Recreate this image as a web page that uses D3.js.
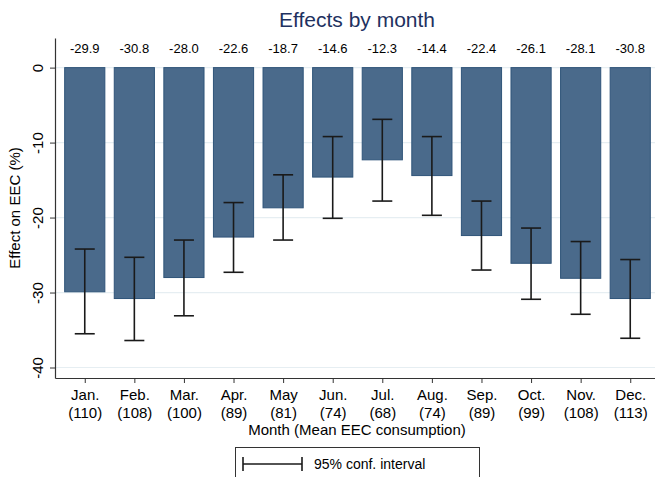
<!DOCTYPE html>
<html>
<head>
<meta charset="utf-8">
<script src="https://cdn.jsdelivr.net/npm/d3@7"></script>
<style>
  body { margin: 0; background: #fff; }
  text { font-family: "Liberation Sans", Arial, sans-serif; }
</style>
</head>
<body>
<script>
months = ["Jan.", "Feb.", "Mar.", "Apr.", "May", "Jun.", "Jul.", "Aug.", "Sep.", "Oct.", "Nov.", "Dec."]
meanEEC = [110, 108, 100, 89, 81, 74, 68, 74, 89, 99, 108, 113]
effect = [-29.9, -30.8, -28.0, -22.6, -18.7, -14.6, -12.3, -14.4, -22.4, -26.1, -28.1, -30.8]
ciHigh = [-24.2, -25.3, -23.0, -18.0, -14.3, -9.2, -6.9, -9.2, -17.8, -21.4, -23.2, -25.6]
ciLow = [-35.5, -36.4, -33.1, -27.3, -23.0, -20.1, -17.8, -19.7, -27.0, -30.9, -32.9, -36.1]
yTicks = [0, -10, -20, -30, -40]

data = months.map((m, i) => ({name: m, mean: meanEEC[i], value: effect[i], hi: ciHigh[i], lo: ciLow[i]}))

width = 655
height = 477
margin = ({top: 38, right: -5, bottom: 99, left: 55})

x = d3.scalePoint()
    .domain(months)
    .range([margin.left, width - margin.right])
    .padding(0.6)

barWidth = x.step() * 0.81

y = d3.scaleLinear()
    .domain([-41.4, 3.95])
    .range([height - margin.bottom, margin.top])

const svg = d3.select("body").append("svg")
    .attr("width", width)
    .attr("height", height)

// grid lines
svg.append("g")
    .selectAll("line")
    .data(yTicks)
    .join("line")
    .attr("x1", margin.left)
    .attr("x2", width)
    .attr("y1", d => y(d))
    .attr("y2", d => y(d))
    .attr("stroke", "#e6eef2")
    .attr("stroke-width", 1.2)

// bars
svg.append("g")
    .attr("class", "bars")
    .selectAll("rect")
    .data(data)
    .join("rect")
    .attr("x", d => x(d.name) - barWidth / 2)
    .attr("y", y(0))
    .attr("width", barWidth)
    .attr("height", d => y(d.value) - y(0))
    .attr("fill", "#4a6a8b")
    .attr("stroke", "#2f5479")
    .attr("stroke-width", 1)

// error bars
const err = svg.append("g")
    .attr("stroke", "#1a1a1a")
    .attr("stroke-width", 1.6)
    .selectAll("g")
    .data(data)
    .join("g")

err.append("line")
    .attr("x1", d => x(d.name)).attr("x2", d => x(d.name))
    .attr("y1", d => y(d.hi)).attr("y2", d => y(d.lo))
err.append("line")
    .attr("x1", d => x(d.name) - 10).attr("x2", d => x(d.name) + 10)
    .attr("y1", d => y(d.hi)).attr("y2", d => y(d.hi))
err.append("line")
    .attr("x1", d => x(d.name) - 10).attr("x2", d => x(d.name) + 10)
    .attr("y1", d => y(d.lo)).attr("y2", d => y(d.lo))

// value labels
svg.append("g")
    .selectAll("text")
    .data(data)
    .join("text")
    .attr("x", d => x(d.name))
    .attr("y", 53)
    .attr("text-anchor", "middle")
    .attr("font-size", 13)
    .attr("fill", "#000")
    .text(d => d.value.toFixed(1))

// y axis
const yAxis = svg.append("g")
    .attr("transform", `translate(${margin.left},0)`)
    .call(d3.axisLeft(y).tickValues(yTicks).tickFormat(d => String(d)).tickSize(5).tickSizeOuter(0))
yAxis.select(".domain").attr("stroke", "#333").attr("stroke-width", 1.2)
yAxis.selectAll(".tick line").attr("stroke", "#333")
yAxis.selectAll(".tick text")
    .attr("font-size", 15)
    .attr("fill", "#000")
    .attr("transform", "rotate(-90)")
    .attr("x", 0)
    .attr("y", -12)
    .attr("dy", 0)
    .attr("text-anchor", "middle")

// x axis
const xAxis = svg.append("g")
    .attr("transform", `translate(0,${height - margin.bottom})`)
    .call(d3.axisBottom(x).tickSize(5).tickSizeOuter(0))
xAxis.select(".domain").attr("stroke", "#333").attr("stroke-width", 1.2)
xAxis.selectAll(".tick line").attr("stroke", "#333")
xAxis.selectAll(".tick text").remove()
xAxis.selectAll(".tick").each(function(d, i) {
  const t = d3.select(this).append("text")
      .attr("fill", "#000")
      .attr("font-size", 15)
      .attr("text-anchor", "middle")
  t.append("tspan").attr("x", 0).attr("y", 22).text(d)
  t.append("tspan").attr("x", 0).attr("y", 40).text(`(${meanEEC[i]})`)
})

// axis titles
svg.append("text")
    .attr("x", 357)
    .attr("y", 435)
    .attr("text-anchor", "middle")
    .attr("font-size", 15)
    .text("Month (Mean EEC consumption)")

svg.append("text")
    .attr("transform", `translate(20,${(margin.top + height - margin.bottom) / 2}) rotate(-90)`)
    .attr("text-anchor", "middle")
    .attr("font-size", 15)
    .text("Effect on EEC (%)")

// title
svg.append("text")
    .attr("x", 357)
    .attr("y", 27)
    .attr("text-anchor", "middle")
    .attr("font-size", 21)
    .attr("fill", "#1e3160")
    .text("Effects by month")

// legend
const leg = svg.append("g")
leg.append("rect")
    .attr("x", 235.5).attr("y", 447.5)
    .attr("width", 244).attr("height", 40)
    .attr("fill", "#fff")
    .attr("stroke", "#333")
leg.append("line")
    .attr("x1", 243).attr("x2", 302).attr("y1", 464).attr("y2", 464)
    .attr("stroke", "#1a1a1a").attr("stroke-width", 1.6)
leg.selectAll(".cap")
    .data([243, 302])
    .join("line")
    .attr("x1", d => d).attr("x2", d => d).attr("y1", 457).attr("y2", 471)
    .attr("stroke", "#1a1a1a").attr("stroke-width", 1.6)
leg.append("text")
    .attr("x", 314).attr("y", 469)
    .attr("font-size", 14)
    .text("95% conf. interval")
</script>
</body>
</html>
